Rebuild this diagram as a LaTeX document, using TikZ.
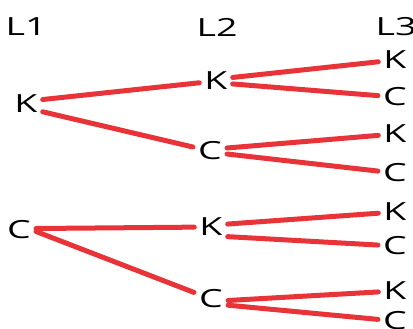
\documentclass[tikz,border=0pt]{standalone}
\usepackage{fontspec}
\setmainfont{Open Sans}
\definecolor{branch}{RGB}{232,52,56}
\begin{document}
\begin{tikzpicture}[x=1pt,y=-1pt,
  lbl/.style={inner sep=5pt,font=\fontsize{25}{25}\selectfont},
  edge/.style={draw=branch,line width=5pt,line cap=round}]
\useasboundingbox (0,0) rectangle (413,329);
\newcommand{\wide}[1]{\scalebox{1.5}[1]{#1}}
% headers
\node[lbl] (h1) at (26,27) {\wide{L1}};
\node[lbl] (h2) at (217,27) {\wide{L2}};
\node[lbl] (h3) at (396,27) {\wide{L3}};
% level 1
\node[lbl] (a) at (26,104) {\wide{K}};
\node[lbl] (b) at (19,230) {\wide{C}};
% level 2
\node[lbl] (ak) at (216,81) {\wide{K}};
\node[lbl] (ac) at (210,151) {\wide{C}};
\node[lbl] (bk) at (211,227) {\wide{K}};
\node[lbl] (bc) at (211,299) {\wide{C}};
% level 3
\node[lbl] (akk) at (395,60) {\wide{K}};
\node[lbl] (akc) at (395,97) {\wide{C}};
\node[lbl] (ack) at (395,134) {\wide{K}};
\node[lbl] (acc) at (395,173) {\wide{C}};
\node[lbl] (bkk) at (395,212) {\wide{K}};
\node[lbl] (bkc) at (395,246) {\wide{C}};
\node[lbl] (bck) at (395,291) {\wide{K}};
\node[lbl] (bcc) at (395,321) {\wide{C}};
% connectors
\draw[edge] (a.15) -- (ak);
\draw[edge] (a.-25) -- (ac);
\draw[edge] (b.5) -- (bk);
\draw[edge] (b.-5) -- (bc);
\draw[edge] (ak.12) -- (akk);
\draw[edge] (ak.-10) -- (akc);
\draw[edge] (ac.10) -- (ack);
\draw[edge] (ac.-10) -- (acc);
\draw[edge] (bk.10) -- (bkk);
\draw[edge] (bk.-30) -- (bkc);
\draw[edge] (bc.-5) -- (bck);
\draw[edge] (bc.-20) -- (bcc);
\end{tikzpicture}
\end{document}
